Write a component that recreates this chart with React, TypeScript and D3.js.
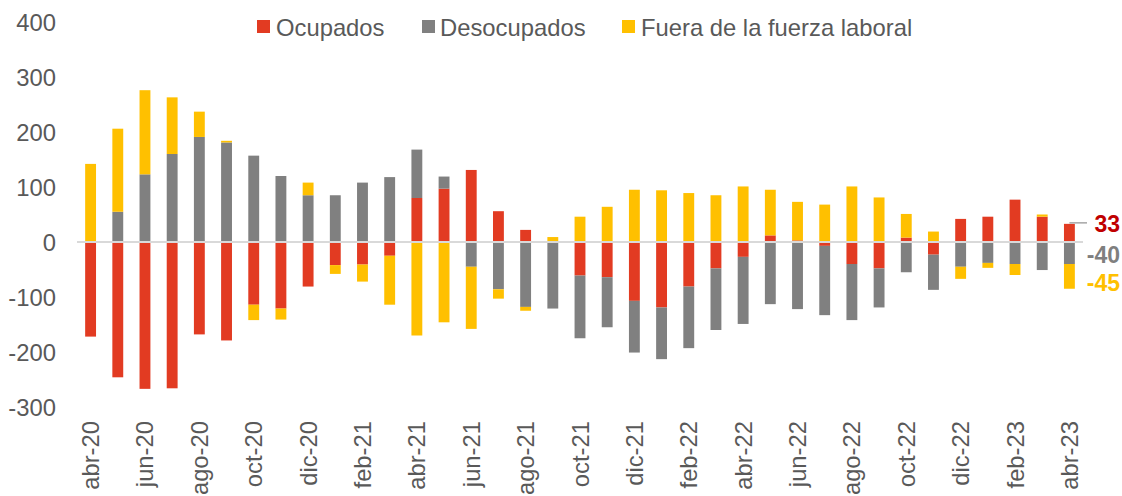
import * as d3 from "d3";

const months = [
  "abr-20", "may-20", "jun-20", "jul-20", "ago-20", "sep-20", "oct-20", "nov-20", "dic-20",
  "ene-21", "feb-21", "mar-21", "abr-21", "may-21", "jun-21", "jul-21", "ago-21", "sep-21",
  "oct-21", "nov-21", "dic-21", "ene-22", "feb-22", "mar-22", "abr-22", "may-22", "jun-22",
  "jul-22", "ago-22", "sep-22", "oct-22", "nov-22", "dic-22", "ene-23", "feb-23", "mar-23", "abr-23",
];

const ocupados = [
  -172, -246, -267, -266, -168, -179, -114, -121, -81, -42, -41, -25, 80, 97, 131, 56, 22, 0,
  -61, -64, -107, -119, -81, -48, -27, 12, 3, -7, -40, -48, 8, -23, 42, 46, 77, 46, 33,
];
const desocupados = [
  0, 55, 123, 160, 191, 181, 157, 120, 85, 85, 108, 118, 88, 22, -45, -86, -118, -121,
  -114, -91, -94, -94, -112, -112, -122, -113, -122, -126, -102, -71, -55, -64, -45, -38, -40, -51, -40,
];
const fuera = [
  142, 151, 153, 103, 46, 3, -28, -20, 23, -16, -31, -89, -170, -146, -113, -17, -7, 9,
  46, 64, 95, 94, 89, 85, 101, 83, 70, 68, 101, 81, 43, 19, -22, -9, -20, 4, -45,
];

const seriesNames = ["Ocupados", "Desocupados", "Fuera de la fuerza laboral"];
const seriesColors = ["#E23B22", "#808080", "#FFC000"];
const labelColors = ["#C00000", "#7F7F7F", "#FFC000"];
const yTicks = [400, 300, 200, 100, 0, -100, -200, -300];

const W = 1122;
const H = 496;
const FONT = "'Liberation Sans', Arial, sans-serif";
const TEXT = "#595959";
const FS = 23.8;

export default function App() {
  const rows = months.map((m, i) => ({
    month: m,
    Ocupados: ocupados[i],
    Desocupados: desocupados[i],
    "Fuera de la fuerza laboral": fuera[i],
  }));

  const stacked = d3
    .stack<any>()
    .keys(seriesNames)
    .offset(d3.stackOffsetDiverging)(rows);

  const x = d3.scaleBand<string>().domain(months).range([77, 1083]).paddingInner(0.6).paddingOuter(0.3);
  const y = d3.scaleLinear().domain([-300, 400]).range([407, 22]);

  const last = months.length - 1;
  const lastX = (x(months[last]) ?? 0) + x.bandwidth() / 2;
  const lastVals = [ocupados[last], desocupados[last], fuera[last]];
  const lastLabelY = [
    y(lastVals[0]) + 8,
    y(lastVals[1] / 2) + 10,
    y(lastVals[1] + lastVals[2] / 2) + 15,
  ];

  const legendItems = [
    { sq: 257, tx: 276 },
    { sq: 422, tx: 440 },
    { sq: 622, tx: 641 },
  ];

  return (
    <svg
      width={W}
      height={H}
      style={{ position: "absolute", left: 0, top: 0, background: "#fff" }}
      fontFamily={FONT}
    >
      {/* legend */}
      {seriesNames.map((name, i) => (
        <g key={name}>
          <rect x={legendItems[i].sq} y={20} width={13} height={13} fill={seriesColors[i]} />
          <text x={legendItems[i].tx} y={36} fontSize={FS} fill={TEXT}>
            {name}
          </text>
        </g>
      ))}

      {/* y axis labels */}
      {yTicks.map((t) => (
        <text key={t} x={56} y={y(t)} dy="0.36em" textAnchor="end" fontSize={FS} fill={TEXT}>
          {t}
        </text>
      ))}

      {/* bars */}
      {stacked.map((s, si) => (
        <g key={s.key} fill={seriesColors[si]}>
          {s.map((d, i) => {
            const y0 = y(d[1]);
            const y1 = y(d[0]);
            return (
              <rect
                key={i}
                x={x(months[i])}
                y={Math.min(y0, y1)}
                width={x.bandwidth()}
                height={Math.abs(y1 - y0)}
              />
            );
          })}
        </g>
      ))}

      {/* zero line */}
      <line x1={77} x2={1083} y1={y(0)} y2={y(0)} stroke="#D9D9D9" strokeWidth={2} />

      {/* x axis labels */}
      {months.map((m, i) =>
        i % 2 === 0 ? (
          <text
            key={m}
            transform={`translate(${(x(m) ?? 0) + x.bandwidth() / 2 + 8.5},421) rotate(-90)`}
            textAnchor="end"
            fontSize={FS}
            fill={TEXT}
          >
            {m}
          </text>
        ) : null
      )}

      {/* end labels */}
      <line
        x1={lastX}
        x2={1087}
        y1={y(lastVals[0]) - 1}
        y2={y(lastVals[0]) - 1}
        stroke="#A6A6A6"
        strokeWidth={1.5}
      />
      {lastVals.map((v, i) => (
        <text
          key={i}
          x={1120}
          y={lastLabelY[i]}
          textAnchor="end"
          fontSize={23}
          fontWeight="bold"
          fill={labelColors[i]}
        >
          {v}
        </text>
      ))}
    </svg>
  );
}
